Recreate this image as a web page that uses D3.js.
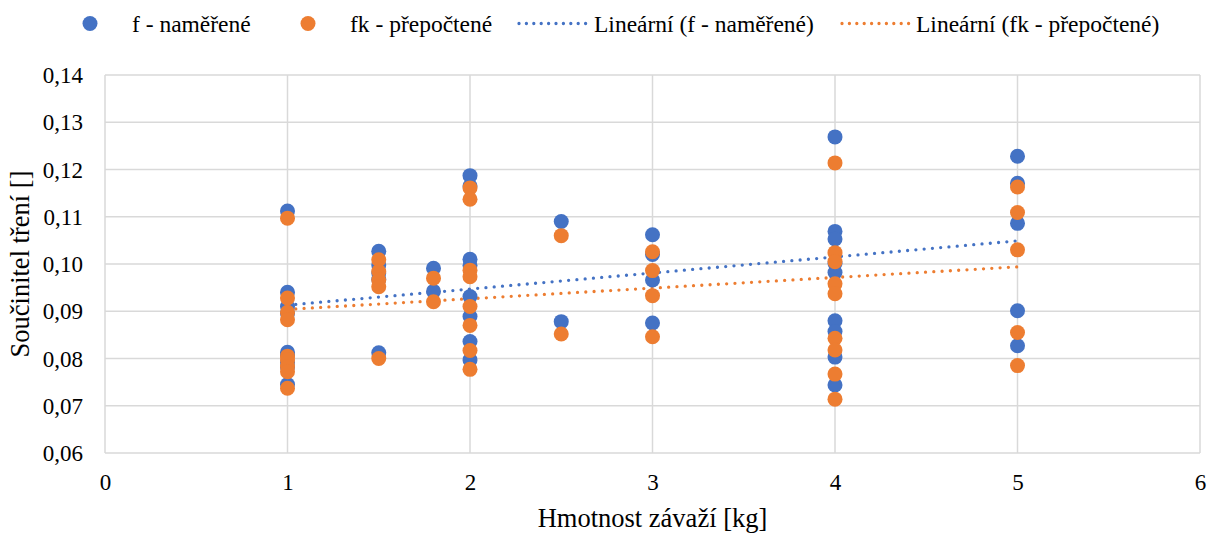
<!DOCTYPE html>
<html>
<head>
<meta charset="utf-8">
<script src="https://cdn.jsdelivr.net/npm/d3@7"></script>
<style>
  body { margin: 0; background: #fff; }
</style>
</head>
<body>
<svg id="chart" width="1224" height="534" font-family="Liberation Serif"></svg>
<script>
// Weight on the sled [kg]
const masses = [1, 1.5, 1.8, 2, 2.5, 3, 4, 5];

// Measured friction coefficient f, grouped by mass
const fMeasured = [
  [0.1112, 0.0940, 0.0910, 0.0895, 0.0813, 0.0807, 0.0792, 0.0782, 0.0745],
  [0.1027, 0.0998, 0.0981, 0.0967, 0.0812],
  [0.0991, 0.0942],
  [0.1187, 0.1165, 0.1010, 0.0997, 0.0931, 0.0889, 0.0836, 0.0797],
  [0.1090, 0.0878],
  [0.1062, 0.1020, 0.0966, 0.0875],
  [0.1269, 0.1069, 0.1053, 0.1001, 0.0982, 0.0880, 0.0857, 0.0803, 0.0744],
  [0.1228, 0.1171, 0.1086, 0.0901, 0.0827]
];

// Recalculated coefficient fk, grouped by mass
const fkRecalc = [
  [0.1097, 0.0928, 0.0898, 0.0882, 0.0805, 0.0797, 0.0783, 0.0772, 0.0737],
  [0.1009, 0.0984, 0.0966, 0.0952, 0.0800],
  [0.0970, 0.0920],
  [0.1161, 0.1137, 0.0987, 0.0973, 0.0910, 0.0870, 0.0817, 0.0777],
  [0.1060, 0.0852],
  [0.1026, 0.0986, 0.0933, 0.0846],
  [0.1214, 0.1024, 0.1005, 0.0958, 0.0937, 0.0843, 0.0818, 0.0767, 0.0714],
  [0.1163, 0.1109, 0.1030, 0.0855, 0.0785]
];

// Linear trend lines: values at the ends of the mass range
const trendMass = [1, 5];
const trendF = [0.0913, 0.1049];
const trendFk = [0.0904, 0.0994];

const xTicks = [0, 1, 2, 3, 4, 5, 6];
const yTicks = [0.06, 0.07, 0.08, 0.09, 0.10, 0.11, 0.12, 0.13, 0.14];

const seriesNames = ["f - naměřené", "fk - přepočtené", "Lineární (f - naměřené)", "Lineární (fk - přepočtené)"];
const colF = "#4472C4", colFk = "#ED7D31";
const FONT = "'Liberation Serif', 'Times New Roman', serif";

const svg = d3.select("#chart");
const plot = { left: 105, right: 1200, top: 75, bottom: 453 };

const x = d3.scaleLinear().domain([0, 6]).range([plot.left, plot.right]);
const y = d3.scaleLinear().domain([0.06, 0.14]).range([plot.bottom, plot.top]);

const fmt = v => d3.format(".2f")(v).replace(".", ",");

// Grid
const grid = svg.append("g");
grid.selectAll("line.h").data(yTicks).join("line")
  .attr("x1", plot.left).attr("x2", plot.right)
  .attr("y1", d => y(d)).attr("y2", d => y(d))
  .attr("stroke", "#d9d9d9").attr("stroke-width", 1.5);
grid.selectAll("line.v").data(xTicks).join("line")
  .attr("x1", d => x(d)).attr("x2", d => x(d))
  .attr("y1", plot.top).attr("y2", plot.bottom)
  .attr("stroke", "#d9d9d9").attr("stroke-width", 1.5);

// Axes (labels only, lines come from the grid)
const yAxis = svg.append("g").attr("transform", `translate(${plot.left - 22},0)`)
  .call(d3.axisLeft(y).tickValues(yTicks).tickFormat(fmt).tickSize(0).tickPadding(0));
yAxis.select(".domain").remove();
yAxis.selectAll("text").style("font-family", FONT).style("font-size", "23px")
  .attr("fill", "#000").attr("dy", "0.33em");

const xAxis = svg.append("g").attr("transform", `translate(0,${plot.bottom})`)
  .call(d3.axisBottom(x).tickValues(xTicks).tickFormat(d3.format("d")).tickSize(0).tickPadding(0));
xAxis.select(".domain").remove();
xAxis.selectAll("text").style("font-family", FONT).style("font-size", "23px")
  .attr("fill", "#000").attr("y", 37).attr("dy", null);

// Axis titles
svg.append("text").attr("x", (plot.left + plot.right) / 2).attr("y", 527)
  .attr("text-anchor", "middle").style("font-family", FONT).style("font-size", "26.5px")
  .text("Hmotnost závaží [kg]");
svg.append("text")
  .attr("transform", `translate(29,${(plot.top + plot.bottom) / 2}) rotate(-90)`)
  .attr("text-anchor", "middle").style("font-family", FONT).style("font-size", "26.5px")
  .text("Součinitel tření []");

// Trend lines
const line = d3.line().x(d => x(d[0])).y(d => y(d[1]));
function trend(vals, col) {
  svg.append("path").datum(trendMass.map((m, i) => [m, vals[i]]))
    .attr("d", line).attr("fill", "none").attr("stroke", col)
    .attr("stroke-width", 3.3).attr("stroke-linecap", "round").attr("stroke-dasharray", "0 8.3");
}
trend(trendF, colF);
trend(trendFk, colFk);

// Points
function points(groups, col) {
  const pts = groups.flatMap((g, i) => g.map(v => [masses[i], v]));
  svg.append("g").selectAll("circle").data(pts).join("circle")
    .attr("cx", d => x(d[0])).attr("cy", d => y(d[1])).attr("r", 7.5).attr("fill", col);
}
points(fMeasured, colF);
points(fkRecalc, colFk);

// Legend
const lg = svg.append("g");
const ly = 23.5, lb = 32;
function legendText(xPos, str) {
  lg.append("text").attr("x", xPos).attr("y", lb)
    .style("font-family", FONT).style("font-size", "23.5px").text(str);
}
lg.append("circle").attr("cx", 90).attr("cy", ly).attr("r", 7.5).attr("fill", colF);
legendText(132, seriesNames[0]);
lg.append("circle").attr("cx", 308).attr("cy", ly).attr("r", 7.5).attr("fill", colFk);
legendText(350, seriesNames[1]);
lg.append("line").attr("x1", 519).attr("x2", 586).attr("y1", ly).attr("y2", ly)
  .attr("stroke", colF).attr("stroke-width", 3.3).attr("stroke-linecap", "round").attr("stroke-dasharray", "0 7.4");
legendText(594, seriesNames[2]);
lg.append("line").attr("x1", 842).attr("x2", 909).attr("y1", ly).attr("y2", ly)
  .attr("stroke", colFk).attr("stroke-width", 3.3).attr("stroke-linecap", "round").attr("stroke-dasharray", "0 7.4");
legendText(916, seriesNames[3]);
</script>
</body>
</html>
